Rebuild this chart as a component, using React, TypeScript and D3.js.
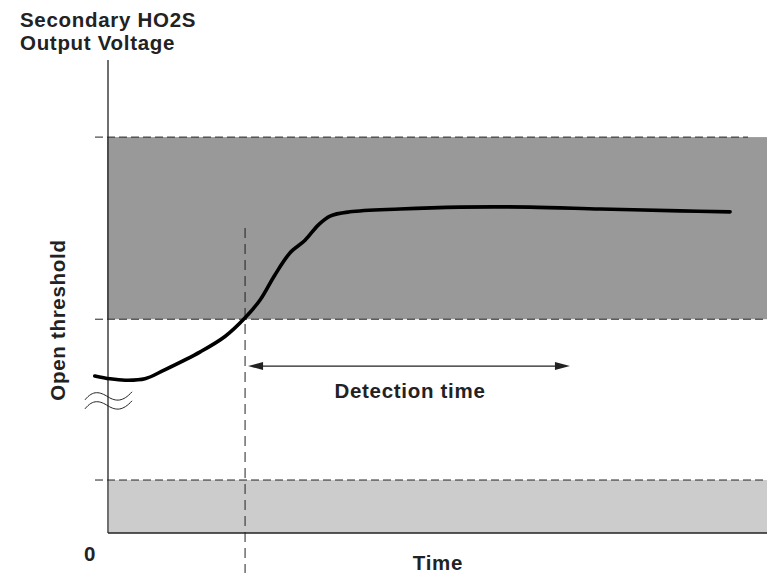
import React from "react";
import * as d3 from "d3";

// Data (time units 0..100, voltage units 0..100)
const curveTime = [-2, 0.3, 2.6, 5.6, 8.6, 14.0, 17.8, 20.8, 23.1, 25.3, 27.6, 29.9, 31.9, 33.7, 36.7, 44.3, 53.4, 64.0, 74.7, 86.8, 94.4];
const curveVolt = [33.2, 32.6, 32.3, 32.6, 34.5, 38.3, 41.6, 45.5, 49.3, 54.5, 59.2, 61.9, 65.1, 67.0, 67.9, 68.5, 68.9, 68.9, 68.5, 68.1, 67.9];
const bandLevels = [83.7, 45.2, 11.2]; // upper threshold, lower threshold (open), low band top
const detectStart = 20.8;
const detectEnd = 70.1;
const arrowLevel = 35.3;
const titleLines = ["Secondary HO2S", "Output Voltage"];
const yLabel = "Open threshold";
const xLabel = "Time";
const detectLabel = "Detection time";
const originLabel = "0";

const W = 781, H = 587;
const x = d3.scaleLinear().domain([0, 100]).range([108, 767]);
const y = d3.scaleLinear().domain([0, 100]).range([533, 60]);

export default function App() {
  const pts: [number, number][] = curveTime.map((t, i) => [t, curveVolt[i]]);
  const line = d3.line<[number, number]>().x(d => x(d[0])).y(d => y(d[1])).curve(d3.curveCatmullRom.alpha(0.5));
  const font = "'Liberation Sans', Arial, sans-serif";
  const fs = 20.5;
  const ls = 0.7;
  const [up, lo, low] = bandLevels;
  const ay = y(arrowLevel);
  const xs = x(detectStart) + 3, xe = x(detectEnd);
  const bx = x(0);
  const by = y(29.0);
  const txt = { fontFamily: font, fontWeight: "bold" as const, fontSize: fs, fill: "#222", letterSpacing: ls };
  return (
    <svg width={W} height={H} style={{ position: "absolute", left: 0, top: 0, background: "#fff" }}>
      {/* bands */}
      <rect x={x(0) - 1} y={y(up)} width={x(100) - x(0) + 1} height={y(lo) - y(up)} fill="#999999" />
      <rect x={x(0) + 1} y={y(low)} width={x(100) - x(0) - 1} height={y(0) - y(low)} fill="#cccccc" />
      <line x1={x(0)} x2={x(100)} y1={y(0)} y2={y(0)} stroke="#222" strokeWidth={1.5} />
      {/* dashed thresholds */}
      <line x1={95} x2={748} y1={y(up)} y2={y(up)} stroke="#222" strokeWidth={1} strokeDasharray="8,4" />
      <line x1={95} x2={767} y1={y(lo)} y2={y(lo)} stroke="#222" strokeWidth={1} strokeDasharray="8,4" />
      <line x1={95} x2={767} y1={y(low)} y2={y(low)} stroke="#222" strokeWidth={1} strokeDasharray="8,4" />
      {/* axis */}
      <line x1={x(0)} x2={x(0)} y1={y(100)} y2={y(0)} stroke="#222" strokeWidth={1.3} />
      {/* vertical dashed */}
      <line x1={x(detectStart)} x2={x(detectStart)} y1={228} y2={573} stroke="#222" strokeWidth={1} strokeDasharray="10,6" />
      {/* curve */}
      <path d={line(pts) || ""} fill="none" stroke="#000" strokeWidth={3.6} strokeLinecap="round" />
      {/* break marks */}
      <path d={`M${bx - 23},${by + 4} C${bx - 15},${by - 6} ${bx - 8},${by - 4} ${bx},${by + 1} S${bx + 15},${by + 6} ${bx + 24},${by - 4}`} fill="none" stroke="#222" strokeWidth={1} />
      <path d={`M${bx - 23},${by + 13} C${bx - 15},${by + 3} ${bx - 8},${by + 5} ${bx},${by + 10} S${bx + 15},${by + 15} ${bx + 24},${by + 5}`} fill="none" stroke="#222" strokeWidth={1} />
      {/* detection arrow */}
      <line x1={xs + 10} x2={xe - 10} y1={ay} y2={ay} stroke="#222" strokeWidth={1.2} />
      <path d={`M${xs},${ay} L${xs + 15},${ay - 4} L${xs + 15},${ay + 4} Z`} fill="#222" />
      <path d={`M${xe},${ay} L${xe - 15},${ay - 4} L${xe - 15},${ay + 4} Z`} fill="#222" />
      <text x={(xs + xe) / 2 + 1} y={398} textAnchor="middle" {...txt}>{detectLabel}</text>
      {/* titles */}
      {titleLines.map((t, i) => (
        <text key={i} x={20} y={27 + i * 23} {...txt}>{t}</text>
      ))}
      <text x={438} y={570} textAnchor="middle" {...txt}>{xLabel}</text>
      <text x={90} y={561} textAnchor="middle" {...txt}>{originLabel}</text>
      <text transform={`translate(65,320) rotate(-90)`} textAnchor="middle" {...txt}>{yLabel}</text>
    </svg>
  );
}
